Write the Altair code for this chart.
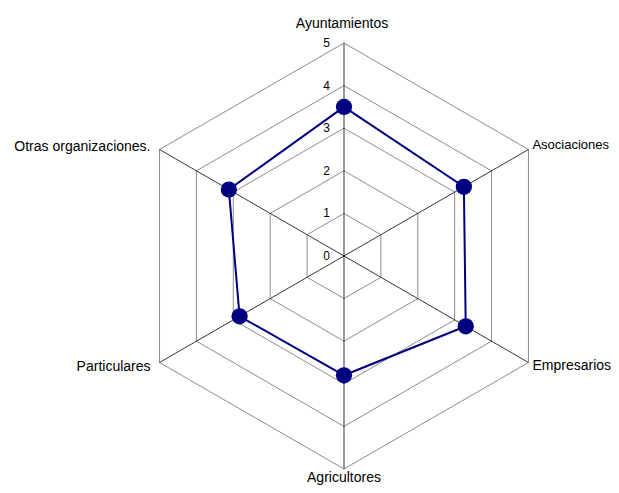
import altair as alt
import pandas as pd

categories = ["Ayuntamientos", "Asociaciones", "Empresarios", "Agricultores",
              "Particulares", "Otras organizaciones."]
values = [3.5, 3.25, 3.3, 2.8, 2.83, 3.12]
levels = [0, 1, 2, 3, 4, 5]
ring_levels = [1, 2, 3, 4, 5]
max_level = 5

FONT = "Liberation Sans"
NAVY = "#000080"

n = len(categories)
series_df = pd.DataFrame({"idx": list(range(n)) + [0],
                          "cat": categories + [categories[0]],
                          "r": values + [values[0]]})
series_df["order"] = range(len(series_df))
point_df = pd.DataFrame({"idx": list(range(n)), "cat": categories, "r": values})
grid_df = pd.DataFrame([{"level": lv, "idx": i, "r": lv} for lv in ring_levels for i in range(n + 1)])
spoke_df = pd.DataFrame({"idx": list(range(n)), "r": [max_level] * n})
tick_df = pd.DataFrame({"level": levels, "label": [str(v) for v in levels]})
label_df = pd.DataFrame({"idx": list(range(n)), "cat": categories, "r": [max_level] * n})

xs = alt.Scale(domain=[-7.887, 6.268], nice=False, zero=False)
ys = alt.Scale(domain=[-5.376, 5.822], nice=False, zero=False)


def polar(chart):
    return chart.transform_calculate(
        ang=f"datum.idx * 2 * PI / {n}",
    ).transform_calculate(
        px="datum.r * sin(datum.ang)",
        py="datum.r * cos(datum.ang)",
    )


X = alt.X("px:Q", scale=xs, axis=None)
Y = alt.Y("py:Q", scale=ys, axis=None)

grid = polar(alt.Chart(grid_df)).mark_line(color="#8c8c8c", strokeWidth=1, clip=False).encode(
    x=X, y=Y, detail="level:N", order="idx:Q")

spokes = polar(alt.Chart(spoke_df)).transform_calculate(
    zx="0", zy="0").mark_rule(color="#000000", strokeWidth=0.8, clip=False).encode(
    x=alt.X("zx:Q", scale=xs, axis=None), y=alt.Y("zy:Q", scale=ys, axis=None),
    x2="px:Q", y2="py:Q")

ticks = alt.Chart(tick_df).transform_calculate(zx="0").mark_text(
    font=FONT, fontSize=12, align="right", baseline="middle", dx=-14, color="#000000", clip=False
).encode(x=alt.X("zx:Q", scale=xs, axis=None),
         y=alt.Y("level:Q", scale=ys, axis=None), text="label:N")

line = polar(alt.Chart(series_df)).mark_line(color=NAVY, strokeWidth=2, clip=False).encode(
    x=X, y=Y, order="order:Q")

pts = polar(alt.Chart(point_df)).mark_circle(color=NAVY, size=265, opacity=1, clip=False).encode(
    x=X, y=Y)


def label_layer(idx_list, align, dx, dy, size=14):
    cond = " || ".join(f"datum.idx == {i}" for i in idx_list)
    return polar(alt.Chart(label_df)).transform_filter(cond).mark_text(
        font=FONT, fontSize=size, align=align, baseline="middle", dx=dx, dy=dy,
        color="#000000", clip=False
    ).encode(x=X, y=Y, text="cat:N")


labels = [
    label_layer([0], "center", -2, -19),
    label_layer([3], "center", 0, 9),
    label_layer([1], "left", 4, -5, 13),
    label_layer([2], "left", 4, 4),
    label_layer([5], "right", -9, -3),
    label_layer([4], "right", -9, 4.5),
]

chart = alt.layer(grid, spokes, ticks, line, pts, *labels).properties(
    width=603, height=477, padding=0,
    autosize=alt.AutoSizeParams(type="none"),
).configure_view(stroke=None)

chart.save("out.html", embed_options={"renderer": "svg", "actions": False})
